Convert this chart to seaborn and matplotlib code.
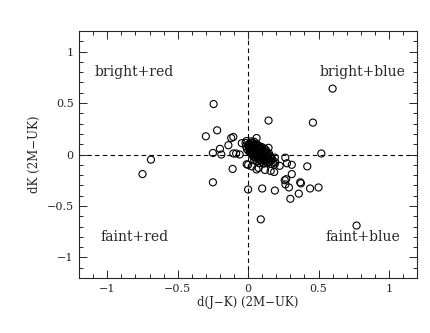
import matplotlib
matplotlib.use("Agg")
import matplotlib.pyplot as plt
import numpy as np
import pandas as pd
import seaborn as sns
from matplotlib.ticker import MultipleLocator

# scattered points around the main clump
outer_x = [0.60, 0.145, 0.46, 0.52, -0.245, -0.30, -0.22, -0.12, -0.105, -0.14,
           -0.20, -0.25, -0.19, -0.105, -0.085, -0.045, 0.06, 0.145, 0.264, 0.276,
           0.31, 0.224, 0.193, -0.11, 0.0, 0.06, 0.12, 0.16, 0.185, 0.31,
           0.42, -0.25, 0.0, 0.10, 0.19, 0.09, 0.77, 0.30, 0.36, 0.44,
           0.50, 0.37, 0.375, 0.29, 0.265, 0.26, 0.27, -0.69, -0.75, 0.026,
           0.074, -0.01, -0.06, 0.19]
outer_y = [0.64, 0.33, 0.31, 0.01, 0.49, 0.177, 0.235, 0.16, 0.17, 0.09,
           0.055, 0.015, 0.0, 0.01, 0.01, 0.11, 0.16, 0.065, -0.03, -0.085,
           -0.10, -0.11, -0.075, -0.14, -0.10, -0.145, -0.15, -0.16, -0.17, -0.19,
           -0.115, -0.27, -0.34, -0.33, -0.35, -0.63, -0.69, -0.43, -0.38, -0.33,
           -0.32, -0.27, -0.28, -0.32, -0.29, -0.25, -0.24, -0.05, -0.19, -0.115,
           -0.13, -0.095, 0.0, -0.03]

# dense clump near the origin
core_x = [-0.012, 0.021, 0.043, -0.018, 0.012, 0.031, 0.058, 0.003, 0.024, 0.047,
          0.071, -0.016, 0.011, 0.036, 0.054, 0.082, 0.098, 0.006, 0.027, 0.051,
          0.069, 0.091, 0.117, -0.008, 0.017, 0.042, 0.063, 0.087, 0.104, 0.127,
          0.002, 0.029, 0.052, 0.076, 0.094, 0.121, 0.013, 0.036, 0.061, 0.079,
          0.102, 0.132, 0.148, 0.022, 0.046, 0.068, 0.093, 0.114, 0.141, 0.031,
          0.057, 0.083, 0.106, 0.124, 0.157, 0.041, 0.066, 0.088, 0.112, 0.137,
          0.163, 0.052, 0.074, 0.101, 0.119, 0.146, 0.172, 0.043, 0.086, 0.108,
          0.131, 0.161, 0.061, 0.097, 0.122, 0.152, 0.178, 0.081, 0.112, 0.138,
          0.166, 0.188, 0.034, 0.072, 0.118]
core_y = [0.131, 0.128, 0.124, 0.112, 0.108, 0.113, 0.105, 0.096, 0.092, 0.097,
          0.089, 0.081, 0.078, 0.083, 0.076, 0.079, 0.072, 0.066, 0.063, 0.068,
          0.061, 0.064, 0.057, 0.051, 0.048, 0.053, 0.046, 0.049, 0.044, 0.041,
          0.036, 0.033, 0.038, 0.031, 0.035, 0.029, 0.021, 0.018, 0.023, 0.016,
          0.019, 0.014, 0.011, 0.006, 0.003, 0.008, 0.001, 0.004, -0.002, -0.008,
          -0.012, -0.007, -0.014, -0.009, -0.016, -0.023, -0.027, -0.021, -0.029, -0.024,
          -0.031, -0.038, -0.042, -0.036, -0.044, -0.039, -0.047, -0.054, -0.057, -0.052,
          -0.059, -0.061, -0.068, -0.072, -0.066, -0.074, -0.078, -0.083, -0.088, -0.081,
          -0.092, -0.097, 0.024, -0.004, 0.027]

labels = ["bright+red", "bright+blue", "faint+red", "faint+blue"]

df = pd.DataFrame({"dJK": outer_x + core_x, "dK": outer_y + core_y})

sns.set_style("ticks")
plt.rcParams["font.family"] = ["DejaVu Serif"]
plt.rcParams["mathtext.fontset"] = "dejavuserif"

fig = plt.figure(figsize=(4.3, 3.33), dpi=100)
ax = fig.add_axes([0.184, 0.165, 0.786, 0.742])

sns.scatterplot(data=df, x="dJK", y="dK", ax=ax, s=26, facecolor="none",
                edgecolor="black", linewidth=0.8, legend=False)

ax.axhline(0, color="black", ls=(0, (4, 3)), lw=0.8, zorder=0)
ax.axvline(0, color="black", ls=(0, (4, 3)), lw=0.8, zorder=0)

ax.set_xlim(-1.2, 1.2)
ax.set_ylim(-1.2, 1.2)
ax.xaxis.set_major_locator(MultipleLocator(0.5))
ax.xaxis.set_minor_locator(MultipleLocator(0.1))
ax.yaxis.set_major_locator(MultipleLocator(0.5))
ax.yaxis.set_minor_locator(MultipleLocator(0.1))
ax.set_xticks([-1, -0.5, 0, 0.5, 1])
ax.set_xticklabels(["\u22121", "\u22120.5", "0", "0.5", "1"])
ax.set_yticks([-1, -0.5, 0, 0.5, 1])
ax.set_yticklabels(["\u22121", "\u22120.5", "0", "0.5", "1"])
ax.tick_params(which="both", direction="in", top=True, right=True, labelsize=8, width=0.7)
ax.tick_params(which="major", length=6, pad=4)
ax.tick_params(which="minor", length=3)
for sp in ax.spines.values():
    sp.set_linewidth(0.8)

ax.set_xlabel("d(J\u2212K) (2M\u2212UK)", fontsize=8.5, labelpad=2)
ax.set_ylabel("dK (2M\u2212UK)", fontsize=8.5, labelpad=4)

ax.text(-1.09, 0.80, labels[0], fontsize=10, ha="left", va="center")
ax.text(1.12, 0.80, labels[1], fontsize=10, ha="right", va="center")
ax.text(-1.05, -0.80, labels[2], fontsize=10, ha="left", va="center")
ax.text(1.08, -0.80, labels[3], fontsize=10, ha="right", va="center")

fig.savefig("out.png", dpi=100)
